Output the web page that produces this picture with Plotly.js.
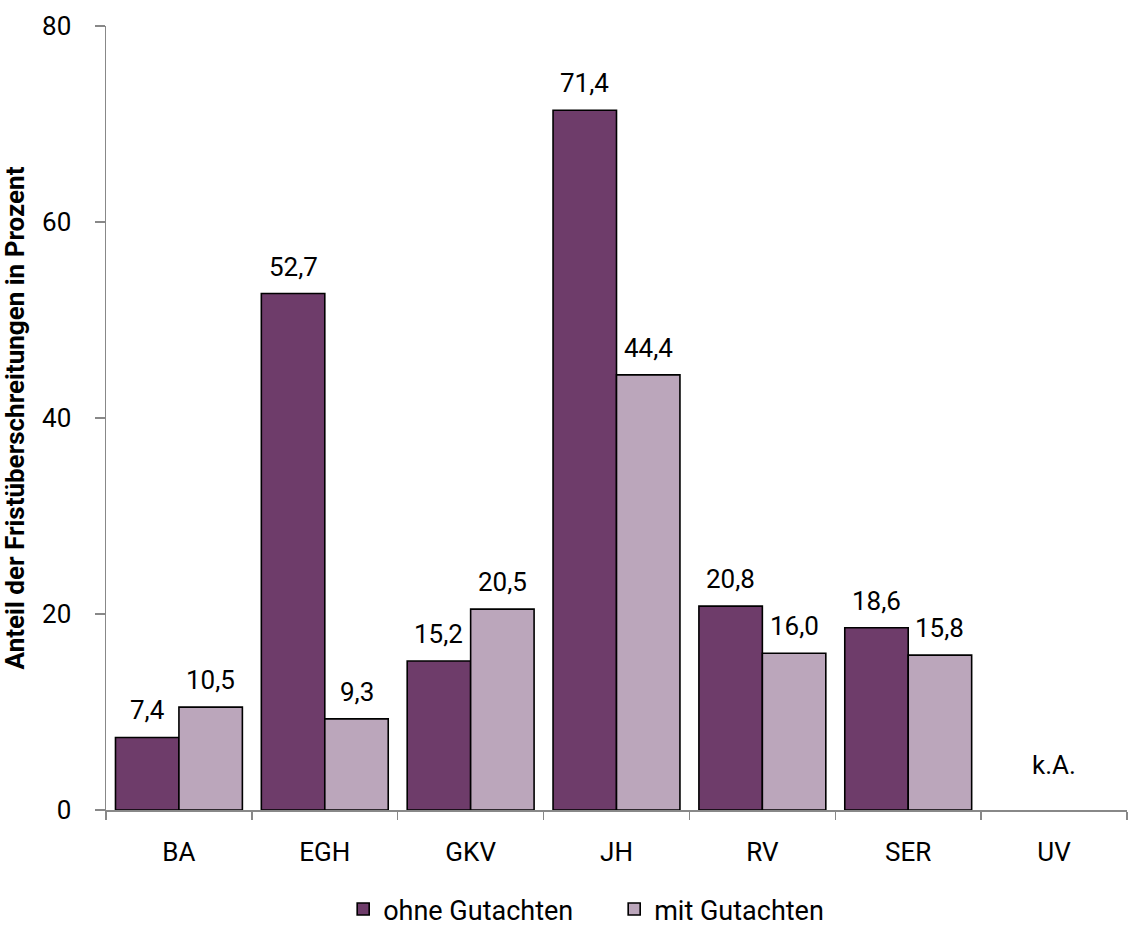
<!DOCTYPE html>
<html>
<head>
<meta charset="utf-8">
<script src="https://cdn.plot.ly/plotly-3.0.1.min.js"></script>
<style>html,body{margin:0;padding:0;background:#fff}#chart{width:1129px;height:934px}</style>
</head>
<body>
<div id="chart"></div>
<script>
var categories = ["BA", "EGH", "GKV", "JH", "RV", "SER", "UV"];
var ohneGutachten = [7.4, 52.7, 15.2, 71.4, 20.8, 18.6, null];
var mitGutachten = [10.5, 9.3, 20.5, 44.4, 16.0, 15.8, null];
var seriesNames = ["ohne Gutachten", "mit Gutachten"];
var yTicks = [0, 20, 40, 60, 80];
var missingLabel = "k.A.";

var font = "Roboto, 'Noto Sans', sans-serif";
var colors = ["#6E3C6A", "#BBA6BB"];
var series = [ohneGutachten, mitGutachten];

var traces = series.map(function (vals, i) {
  return {
    type: "bar", name: seriesNames[i], x: categories, y: vals,
    marker: {color: colors[i], line: {color: "#000", width: 1.6}},
    hoverinfo: "none"
  };
});

var barHalf = 31.75;
var annotations = [];
series.forEach(function (vals, i) {
  vals.forEach(function (v, j) {
    if (v === null) return;
    annotations.push({
      x: categories[j], y: v, xref: "x", yref: "y",
      xshift: i === 0 ? -barHalf : barHalf, yshift: 10,
      yanchor: "bottom", showarrow: false,
      text: v.toFixed(1).replace(".", ","),
      font: {family: font, size: 26, color: "#000"}
    });
  });
});
categories.forEach(function (c, j) {
  if (ohneGutachten[j] === null && mitGutachten[j] === null) {
    annotations.push({
      x: c, y: 0, xref: "x", yref: "y", yanchor: "bottom", yshift: 28,
      text: missingLabel, showarrow: false,
      font: {family: font, size: 26, color: "#000"}
    });
  }
});

var layout = {
  width: 1129, height: 934,
  margin: {l: 106, r: 2, t: 26, b: 124},
  font: {family: font, size: 26, color: "#000"},
  paper_bgcolor: "#fff", plot_bgcolor: "#fff",
  barmode: "group", bargap: 0.13, bargroupgap: 0,
  showlegend: true,
  legend: {orientation: "h", x: 0.544, xref: "container", xanchor: "center",
           y: 0, yref: "container", yanchor: "bottom",
           entrywidth: 226,
           font: {family: font, size: 27, color: "#000"}, itemwidth: 30, tracegroupgap: 0},
  xaxis: {
    type: "category", showline: true, linecolor: "#888", linewidth: 1.5,
    ticks: "outside", tickson: "boundaries", ticklen: 8, tickcolor: "#888", tickwidth: 1.5,
    ticklabelstandoff: 18, automargin: false,
    tickfont: {family: font, size: 26, color: "#000"}, showgrid: false, zeroline: false
  },
  yaxis: {
    range: [0, 80], tickvals: yTicks, showline: true, linecolor: "#888", linewidth: 1.5,
    ticks: "outside", ticklen: 10, tickcolor: "#888", tickwidth: 1.5,
    ticklabelstandoff: 18, automargin: false,
    tickfont: {family: font, size: 26, color: "#000"}, showgrid: false, zeroline: false,
    title: {text: "Anteil der Fristüberschreitungen in Prozent", standoff: 10,
            font: {family: font, size: 26, color: "#000", weight: "bold"}}
  },
  annotations: annotations
};

Plotly.newPlot("chart", traces, layout, {displayModeBar: false, staticPlot: true});
</script>
</body>
</html>
